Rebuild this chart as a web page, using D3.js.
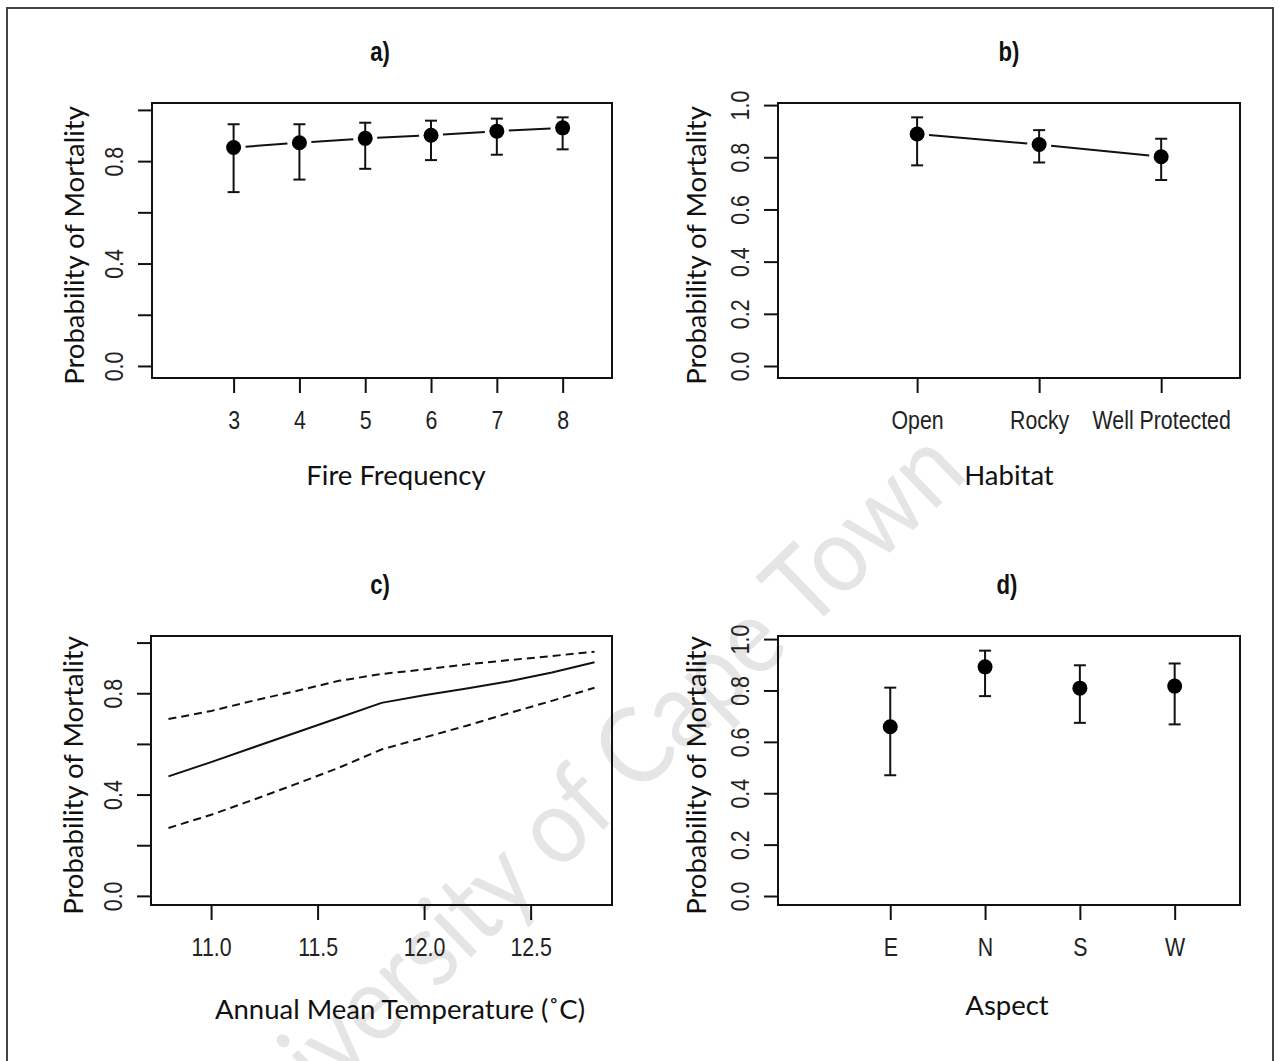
<!DOCTYPE html>
<html>
<head>
<meta charset="utf-8">
<script src="https://cdn.jsdelivr.net/npm/d3@7"></script>
<style>
  body { margin: 0; background: #fff; }
  svg { display: block; }
</style>
</head>
<body>
<svg id="chart" width="1279" height="1061"></svg>
<script>
'use strict'

// a) fire frequency
var fireFreq = [3, 4, 5, 6, 7, 8]
var fireFit = [0.853, 0.872, 0.889, 0.901, 0.917, 0.930]
var fireLower = [0.679, 0.728, 0.770, 0.804, 0.825, 0.846]
var fireUpper = [0.944, 0.944, 0.950, 0.958, 0.966, 0.971]

// b) habitat
var habitats = ['Open', 'Rocky', 'Well Protected']
var habitatFit = [0.889, 0.849, 0.802]
var habitatLower = [0.769, 0.780, 0.713]
var habitatUpper = [0.953, 0.904, 0.871]

// c) annual mean temperature
var tempX = [10.8, 11.0, 11.2, 11.4, 11.6, 11.8, 12.0, 12.2, 12.4, 12.6, 12.8]
var tempFit = [0.472, 0.528, 0.587, 0.645, 0.703, 0.762, 0.792, 0.819, 0.847, 0.882, 0.922]
var tempLower = [0.268, 0.320, 0.380, 0.442, 0.506, 0.578, 0.625, 0.672, 0.722, 0.770, 0.822]
var tempUpper = [0.698, 0.730, 0.771, 0.809, 0.849, 0.876, 0.894, 0.914, 0.931, 0.947, 0.964]
var tempTicks = [11.0, 11.5, 12.0, 12.5]

// d) aspect
var aspects = ['E', 'N', 'S', 'W']
var aspectFit = [0.659, 0.892, 0.809, 0.817]
var aspectLower = [0.470, 0.778, 0.674, 0.668]
var aspectUpper = [0.811, 0.955, 0.898, 0.905]

var probTicks = [0, 0.2, 0.4, 0.6, 0.8, 1.0]
var probLabelsSparse = [0, 0.4, 0.8]

var yTitle = 'Probability of Mortality'
var ink = '#111'
var narrowFont = '"Liberation Sans Narrow", "Arial Narrow", "Liberation Sans", Arial, sans-serif'
var labelFont = 'Lato, "Open Sans", sans-serif'

var svg = d3.select('#chart')

svg.append('rect')
  .attr('width', 1279).attr('height', 1061)
  .attr('fill', '#fff')

// R's condensed Helvetica look: if no narrow face is installed,
// squeeze the regular one horizontally instead
var probe = svg.append('text')
  .attr('font-family', narrowFont).attr('font-size', 26)
  .text('Well Protected')
var probeWide = svg.append('text')
  .attr('font-family', '"Liberation Sans", Arial, sans-serif').attr('font-size', 26)
  .text('Well Protected')
var hasNarrow = probe.node().getComputedTextLength() < 0.92 * probeWide.node().getComputedTextLength()
probe.remove()
probeWide.remove()

function squeeze (sel) {
  if (hasNarrow) return
  sel.each(function () {
    var len = this.getComputedTextLength()
    if (len > 0) {
      d3.select(this)
        .attr('textLength', len * 0.82)
        .attr('lengthAdjust', 'spacingAndGlyphs')
    }
  })
}

// watermark sits behind everything
svg.append('text')
  .attr('transform', 'translate(603,830) rotate(-44)')
  .attr('text-anchor', 'middle')
  .attr('font-family', labelFont)
  .attr('font-size', 106)
  .attr('textLength', 1020)
  .attr('lengthAdjust', 'spacingAndGlyphs')
  .attr('fill', '#e5e5e5')
  .text('University of Cape Town')

// outer frame (open at the bottom)
svg.append('path')
  .attr('d', 'M7,1061 V8 H1273 V1061')
  .attr('fill', 'none')
  .attr('stroke', '#444')
  .attr('stroke-width', 2)

function drawPanel (cfg) {
  var g = svg.append('g')
  var x = d3.scaleLinear().domain(cfg.xDomain).range([cfg.left, cfg.right])
  var y = d3.scaleLinear().domain(cfg.yDomain).range([cfg.bottom, cfg.top])

  // y axis, labels rotated like base R
  var yAxis = d3.axisLeft(y)
    .tickValues(probTicks)
    .tickSize(14)
    .tickSizeOuter(0)
    .tickFormat((d) => {
      if (cfg.sparse && probLabelsSparse.indexOf(d) < 0) return ''
      return d3.format('.1f')(d)
    })
  var ya = g.append('g')
    .attr('transform', `translate(${cfg.left},0)`)
    .call(yAxis)
  ya.select('.domain').remove()
  ya.selectAll('line').attr('stroke', ink).attr('stroke-width', 2)
  ya.selectAll('text')
    .attr('x', null).attr('dy', null)
    .attr('transform', 'translate(-38,0) rotate(-90)')
    .attr('text-anchor', 'middle')
    .attr('dominant-baseline', 'central')
    .attr('font-family', narrowFont)
    .attr('font-size', 26)
    .attr('fill', '#222')
    .call(squeeze)

  // x axis
  var xAxis = d3.axisBottom(x)
    .tickValues(cfg.xTicks)
    .tickSize(15)
    .tickSizeOuter(0)
    .tickFormat(cfg.xFormat)
  var xa = g.append('g')
    .attr('transform', `translate(0,${cfg.bottom})`)
    .call(xAxis)
  xa.select('.domain').remove()
  xa.selectAll('line').attr('stroke', ink).attr('stroke-width', 2)
  xa.selectAll('text')
    .attr('y', 42).attr('dy', '0.35em')
    .attr('font-family', narrowFont)
    .attr('font-size', 26)
    .attr('fill', '#222')
    .call(squeeze)

  // plot box
  g.append('rect')
    .attr('x', cfg.left).attr('y', cfg.top)
    .attr('width', cfg.right - cfg.left)
    .attr('height', cfg.bottom - cfg.top)
    .attr('fill', 'none')
    .attr('stroke', ink)
    .attr('stroke-width', 2)

  // titles
  g.append('text')
    .attr('x', cfg.titleX).attr('y', cfg.top - 51)
    .attr('text-anchor', 'middle')
    .attr('dominant-baseline', 'central')
    .attr('font-family', narrowFont)
    .attr('font-weight', 'bold')
    .attr('font-size', 27)
    .attr('fill', ink)
    .text(cfg.title)
    .call(squeeze)

  g.append('text')
    .attr('x', cfg.titleX + cfg.xLabelShift).attr('y', cfg.bottom + cfg.xLabelGap)
    .attr('text-anchor', 'middle')
    .attr('dominant-baseline', 'central')
    .attr('font-family', labelFont)
    .attr('font-size', 27.5)
    .attr('fill', ink)
    .text(cfg.xLabel)

  g.append('text')
    .attr('transform', `translate(${cfg.yLabelX},${(cfg.top + cfg.bottom) / 2 + 5}) rotate(-90)`)
    .attr('text-anchor', 'middle')
    .attr('dominant-baseline', 'central')
    .attr('font-family', labelFont)
    .attr('font-size', 27.5)
    .attr('fill', ink)
    .text(yTitle)

  return { g: g, x: x, y: y }
}

function drawEffects (p, xs, fit, lower, upper, joined) {
  var pts = xs.map((d, i) => ({ px: p.x(d), py: p.y(fit[i]), lo: p.y(lower[i]), hi: p.y(upper[i]) }))

  if (joined) {
    // type "b" style: segments with a gap around each point
    var gap = 12
    for (var i = 0; i < pts.length - 1; i++) {
      var a = pts[i]
      var b = pts[i + 1]
      var dx = b.px - a.px
      var dy = b.py - a.py
      var len = Math.sqrt(dx * dx + dy * dy)
      var ux = dx / len
      var uy = dy / len
      p.g.append('line')
        .attr('x1', a.px + ux * gap).attr('y1', a.py + uy * gap)
        .attr('x2', b.px - ux * gap).attr('y2', b.py - uy * gap)
        .attr('stroke', ink).attr('stroke-width', 2)
    }
  }

  var bars = p.g.selectAll(null).data(pts).enter().append('g')
  bars.append('line')
    .attr('x1', (d) => d.px).attr('x2', (d) => d.px)
    .attr('y1', (d) => d.lo).attr('y2', (d) => d.hi)
    .attr('stroke', ink).attr('stroke-width', 2)
  bars.append('line')
    .attr('x1', (d) => d.px - 6).attr('x2', (d) => d.px + 6)
    .attr('y1', (d) => d.hi).attr('y2', (d) => d.hi)
    .attr('stroke', ink).attr('stroke-width', 2)
  bars.append('line')
    .attr('x1', (d) => d.px - 6).attr('x2', (d) => d.px + 6)
    .attr('y1', (d) => d.lo).attr('y2', (d) => d.lo)
    .attr('stroke', ink).attr('stroke-width', 2)
  bars.append('circle')
    .attr('cx', (d) => d.px).attr('cy', (d) => d.py)
    .attr('r', 7.5)
    .attr('fill', '#000')
}

// a)
var pa = drawPanel({
  left: 152, right: 612, top: 103, bottom: 378,
  xDomain: [1.76, 8.75], yDomain: [-0.047, 1.027],
  xTicks: fireFreq, xFormat: d3.format('d'),
  sparse: true, title: 'a)', titleX: 380, xLabelShift: 16,
  xLabel: 'Fire Frequency', xLabelGap: 96, yLabelX: 73
})
drawEffects(pa, fireFreq, fireFit, fireLower, fireUpper, true)

// b)
var habitatPos = habitats.map((d, i) => i + 1)
var pb = drawPanel({
  left: 778, right: 1240, top: 103, bottom: 378,
  xDomain: [-0.14, 3.646], yDomain: [-0.046, 1.008],
  xTicks: habitatPos, xFormat: (d) => habitats[d - 1],
  sparse: false, title: 'b)', titleX: 1009, xLabelShift: 0,
  xLabel: 'Habitat', xLabelGap: 96, yLabelX: 695
})
drawEffects(pb, habitatPos, habitatFit, habitatLower, habitatUpper, true)

// c)
var pc = drawPanel({
  left: 151, right: 612, top: 636, bottom: 905,
  xDomain: [10.718, 12.882], yDomain: [-0.036, 1.026],
  xTicks: tempTicks, xFormat: d3.format('.1f'),
  sparse: true, title: 'c)', titleX: 380, xLabelShift: 20,
  xLabel: 'Annual Mean Temperature (\u02DAC)', xLabelGap: 103, yLabelX: 72
})
var tempLine = (vals) => d3.line()
  .x((d, i) => pc.x(tempX[i]))
  .y((d) => pc.y(d))(vals)
pc.g.append('path')
  .attr('d', tempLine(tempFit))
  .attr('fill', 'none').attr('stroke', ink).attr('stroke-width', 2)
;[tempLower, tempUpper].forEach((band) => {
  pc.g.append('path')
    .attr('d', tempLine(band))
    .attr('fill', 'none').attr('stroke', ink).attr('stroke-width', 2)
    .attr('stroke-dasharray', '8,5')
})

// d)
var aspectPos = aspects.map((d, i) => i + 1)
var pd = drawPanel({
  left: 778, right: 1240, top: 636, bottom: 905,
  xDomain: [-0.184, 4.689], yDomain: [-0.035, 1.012],
  xTicks: aspectPos, xFormat: (d) => aspects[d - 1],
  sparse: false, title: 'd)', titleX: 1007, xLabelShift: 0,
  xLabel: 'Aspect', xLabelGap: 99, yLabelX: 695
})
drawEffects(pd, aspectPos, aspectFit, aspectLower, aspectUpper, false)
</script>
</body>
</html>
